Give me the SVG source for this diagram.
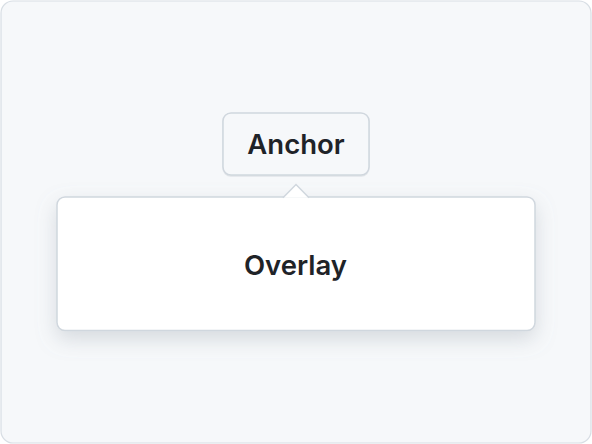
<svg xmlns="http://www.w3.org/2000/svg" width="592" height="444" viewBox="0 0 592 444">
<defs>
<style>
.lbl{font-family:"Inter","Liberation Sans",sans-serif;font-weight:600;fill:#1f2328;text-anchor:middle}
</style>
<filter id="sh" x="-20%" y="-30%" width="140%" height="170%">
<feDropShadow dx="0" dy="8" stdDeviation="10" flood-color="#8c959f" flood-opacity="0.3"/>
</filter>
<filter id="sh2" x="-20%" y="-30%" width="140%" height="170%">
<feDropShadow dx="0" dy="1" stdDeviation="0.6" flood-color="#8c959f" flood-opacity="0.2"/>
</filter>
</defs>
<rect x="1" y="1" width="590" height="442" rx="12" fill="#f6f8fa" stroke="#d8dee4" stroke-width="1.2"/>
<g id="anchor">
<rect x="223" y="113" width="146" height="62" rx="8" fill="#f6f8fa" stroke="#d0d7de" stroke-width="1.5" filter="url(#sh2)"/>
<text class="lbl" x="296" y="153.5" font-size="27.5">Anchor</text>
</g>
<g id="connectors"></g>
<g id="overlay">
<rect x="57" y="197" width="478" height="133.5" rx="8" fill="#ffffff" stroke="#d0d7de" stroke-width="1.5" filter="url(#sh)"/>
<path d="M283 197.8 L296 184.5 L309 197.8" fill="#ffffff" stroke="#d0d7de" stroke-width="1.5" stroke-linejoin="miter"/>
<text class="lbl" x="295.5" y="274.5" font-size="27.5">Overlay</text>
</g>
</svg>
